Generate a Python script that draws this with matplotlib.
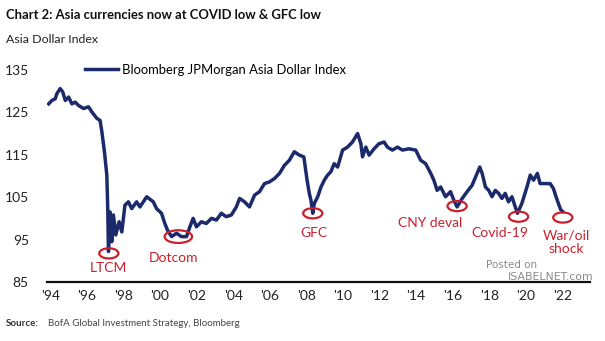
import matplotlib
matplotlib.use("Agg")
import matplotlib.pyplot as plt
from matplotlib.patches import Ellipse

plt.rcParams['font.family'] = ['Lato', 'DejaVu Sans']

# Bloomberg JPMorgan Asia Dollar Index (decimal year, index level)
years = [
    1993.91, 1994.09, 1994.27, 1994.36, 1994.54, 1994.68, 1994.82, 1995.0, 1995.18,
    1995.36, 1995.55, 1995.82, 1996.09, 1996.27, 1996.54, 1996.72, 1996.82, 1996.96,
    1997.09, 1997.14, 1997.18, 1997.27, 1997.36, 1997.45, 1997.58, 1997.76, 1997.91,
    1998.08, 1998.27, 1998.45, 1998.72, 1998.9, 1999.27, 1999.63, 1999.81, 2000.08,
    2000.26, 2000.41, 2000.63, 2000.9, 2001.17, 2001.45, 2001.63, 2001.81, 2001.99,
    2002.26, 2002.53, 2002.81, 2003.08, 2003.35, 2003.62, 2003.9, 2004.17, 2004.35,
    2004.62, 2004.89, 2005.17, 2005.44, 2005.71, 2005.98, 2006.26, 2006.53, 2006.8,
    2007.07, 2007.34, 2007.62, 2007.86, 2008.04, 2008.16, 2008.25, 2008.35, 2008.43,
    2008.62, 2008.8, 2008.98, 2009.16, 2009.34, 2009.52, 2009.71, 2009.98, 2010.25,
    2010.52, 2010.8, 2010.98, 2011.07, 2011.25, 2011.43, 2011.7, 2011.97, 2012.25,
    2012.43, 2012.7, 2012.98, 2013.25, 2013.61, 2013.98, 2014.25, 2014.52, 2014.8,
    2014.97, 2015.15, 2015.34, 2015.61, 2015.88, 2016.06, 2016.24, 2016.52, 2016.79,
    2017.06, 2017.33, 2017.48, 2017.61, 2017.79, 2017.97, 2018.15, 2018.33, 2018.51,
    2018.69, 2018.87, 2019.05, 2019.24, 2019.42, 2019.54, 2019.78, 2020.06, 2020.24,
    2020.42, 2020.63, 2020.78, 2021.05, 2021.33, 2021.51, 2021.65, 2021.78, 2021.91,
    2022.02,
]
index = [
    127.0, 127.8, 128.2, 129.4, 130.6, 129.8, 127.8, 128.6, 127.0,
    127.4, 126.6, 125.9, 126.3, 125.1, 123.6, 123.1, 120.4, 115.7,
    110.2, 102.4, 92.2, 101.5, 94.5, 100.8, 96.1, 99.2, 96.8,
    103.1, 103.9, 102.3, 103.9, 102.7, 105.1, 103.9, 102.3, 101.2,
    98.8, 97.2, 95.7, 96.5, 95.7, 95.7, 98.0, 100.0, 98.0,
    99.2, 98.8, 100.0, 99.6, 101.2, 100.4, 100.8, 102.7, 104.7,
    103.9, 102.7, 105.5, 106.3, 108.2, 108.6, 109.4, 110.6, 112.5,
    113.7, 115.7, 114.9, 114.5, 109.0, 105.9, 104.3, 101.2, 103.5,
    105.1, 107.4, 109.0, 110.2, 111.0, 112.9, 112.1, 116.1, 116.8,
    118.0, 120.0, 117.6, 114.5, 116.8, 114.9, 116.4, 117.6, 118.0,
    116.8, 116.1, 116.8, 116.1, 116.4, 116.1, 113.7, 112.9, 110.6,
    109.0, 106.6, 107.4, 105.1, 106.3, 104.3, 102.7, 104.7, 106.3,
    107.8, 110.6, 112.1, 110.6, 107.4, 106.6, 105.1, 106.6, 105.9,
    104.7, 105.9, 103.9, 105.1, 102.7, 101.2, 103.5, 107.4, 110.2,
    109.0, 110.6, 108.2, 108.2, 108.2, 107.0, 105.1, 103.5, 102.0,
    101.6,
]

# Episodes marked on the chart
event_names = ["LTCM", "Dotcom", "GFC", "CNY deval", "Covid-19", "War/oil\nshock"]
event_x = [1997.2, 2001.0, 2008.35, 2016.24, 2019.6, 2022.02]
event_y = [91.75, 95.7, 101.2, 102.9, 100.4, 100.2]
label_x = [1997.2, 2000.75, 2008.42, 2014.79, 2018.6, 2022.2]
label_y = [88.3, 90.6, 96.5, 98.9, 96.5, 94.4]

tick_years = list(range(1994, 2023, 2))
tick_labels = ["'%02d" % (y % 100) for y in tick_years]
y_ticks = [85, 95, 105, 115, 125, 135]

navy = "#1b2a6b"
red = "#c8202c"

fig = plt.figure(figsize=(6.05, 3.41), dpi=100)
ax = fig.add_axes([0.0777, 0.173, 0.8973, 0.622])

ax.plot(years, index, color=navy, lw=2.5, solid_joinstyle="round",
        label="Bloomberg JPMorgan Asia Dollar Index")

for i, name in enumerate(event_names):
    w, h = (1.5, 3.0) if name == "Dotcom" else (1.05, 2.4)
    ax.add_patch(Ellipse((event_x[i], event_y[i]), w, h, fill=False,
                         edgecolor=red, lw=1.6, zorder=3))
    ax.text(label_x[i], label_y[i], name, color=red, fontsize=10,
            ha="center", va="center", linespacing=1.1)

ax.set_xlim(1993.82, 2023.5)
ax.set_ylim(85, 135)
ax.set_xticks(tick_years)
ax.set_xticklabels(tick_labels)
ax.set_yticks(y_ticks)
ax.tick_params(axis="both", length=0, labelsize=10, colors="#222222")
ax.tick_params(axis="x", pad=6)
ax.tick_params(axis="y", pad=13)
for side in ["top", "right", "left"]:
    ax.spines[side].set_visible(False)
ax.spines["bottom"].set_linewidth(1.6)
ax.spines["bottom"].set_color("#111111")

ax.legend(loc="center left", bbox_to_anchor=(0.07, 1.0), frameon=False,
          fontsize=9.4, handlelength=2.5, handletextpad=0.35,
          borderpad=0, borderaxespad=0)

fig.text(0.01, 0.955, "Chart 2: Asia currencies now at COVID low & GFC low",
         fontsize=9.4, fontweight="bold", va="center", color="#111111")
fig.text(0.01, 0.883, "Asia Dollar Index", fontsize=8.9, va="center", color="#222222")

fig.text(0.01, 0.05, "Source:", fontsize=7, fontweight="bold", va="center", color="#333333")
fig.text(0.079, 0.05, "BofA Global Investment Strategy, Bloomberg", fontsize=7,
         va="center", color="#444444")

# watermark, kept just above the axis line
fig.text(0.846, 0.222, "Posted on", fontsize=7.5, ha="center", va="center",
         color="#8a8a8a", family="DejaVu Sans")
fig.text(0.911, 0.188, "ISABELNET.com", fontsize=7.8, ha="center", va="center",
         color="#8a8a8a", family="DejaVu Sans", zorder=5)

fig.savefig("out.png", dpi=100)
